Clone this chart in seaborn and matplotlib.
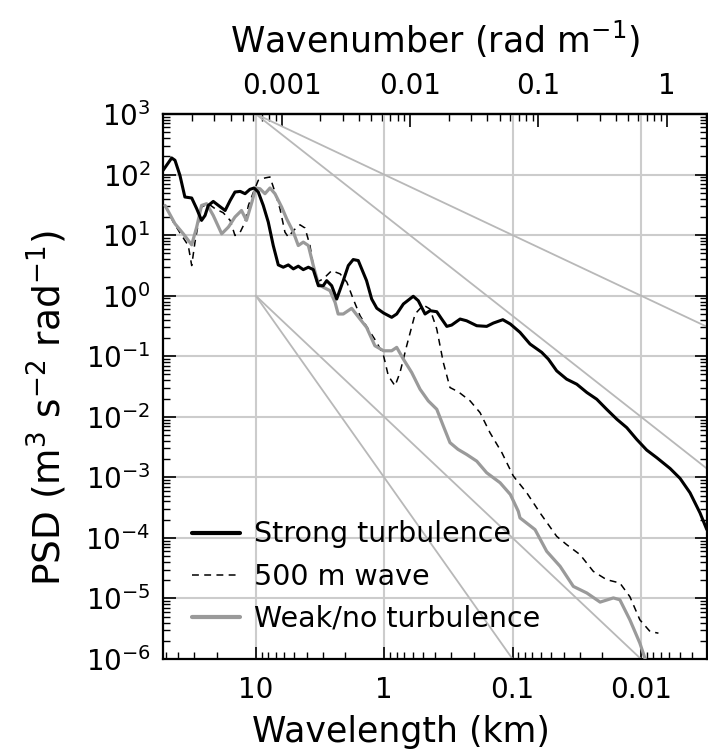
import numpy as np
import pandas as pd
import matplotlib
matplotlib.use("Agg")
import matplotlib.pyplot as plt
import seaborn as sns
from matplotlib.ticker import FixedLocator, FixedFormatter, LogLocator, NullFormatter

# ---------------- data ----------------
strong_wl = [52.7, 45.1, 42.5, 38.9, 35.6, 31.5, 28.8, 26.4, 24.8, 23.4, 21.4, 19.5, 17.3, 15.8,
             14.5, 13.2, 12.1, 11.1, 10.3, 9.55, 8.73, 7.98, 7.30, 6.67, 6.10, 5.57, 5.09, 4.66,
             4.26, 3.89, 3.56, 3.25, 2.98, 2.80, 2.56, 2.34, 2.08, 1.90, 1.74, 1.59, 1.37, 1.25,
             1.14, 1.01, 0.873, 0.798, 0.708, 0.593, 0.542, 0.480, 0.439, 0.389, 0.356, 0.325,
             0.298, 0.256, 0.228, 0.190, 0.159, 0.141, 0.119, 0.104, 0.0875, 0.0731, 0.0593,
             0.0526, 0.0453, 0.0379, 0.0316, 0.0264, 0.0221, 0.0185, 0.0154, 0.0129, 0.0108,
             0.00902, 0.00753, 0.00593, 0.00496, 0.00415, 0.00347, 0.00307]
strong_psd = [117, 188, 172, 97, 42.6, 41.0, 27.3, 17.5, 21.1, 30.9, 36.0, 30.9, 25.5, 37.4,
              51.5, 52.7, 48.3, 56.9, 60.0, 51.5, 30.9, 16.4, 6.73, 3.22, 2.95, 3.22, 2.77, 3.07,
              2.69, 2.95, 2.69, 1.46, 1.46, 1.77, 1.46, 0.88, 1.77, 3.14, 3.95, 3.80, 1.77, 0.88,
              0.62, 0.517, 0.439, 0.498, 0.729, 0.977, 0.826, 0.498, 0.565, 0.543, 0.411, 0.311,
              0.327, 0.411, 0.385, 0.319, 0.311, 0.353, 0.401, 0.340, 0.248, 0.159, 0.116,
              0.0895, 0.0573, 0.0418, 0.0345, 0.0252, 0.0195, 0.0133, 0.0091, 0.00662, 0.00424,
              0.00282, 0.00211, 0.00140, 0.00096, 0.000556, 0.000259, 0.000137]

wave_wl = [50.8, 43.8, 37.7, 33.5, 31.5, 29.7, 28.0, 26.4, 23.4, 20.7, 17.9, 15.8, 14.5, 13.2,
           12.1, 11.4, 10.4, 9.55, 8.47, 7.74, 7.08, 6.47, 5.92, 5.57, 5.09, 4.52, 4.13, 3.78,
           3.56, 3.35, 2.98, 2.56, 2.20, 1.95, 1.74, 1.54, 1.33, 1.14, 1.01, 0.927, 0.822, 0.752,
           0.667, 0.574, 0.495, 0.439, 0.389, 0.346, 0.307, 0.264, 0.214, 0.179, 0.150, 0.121,
           0.0986, 0.0775, 0.0611, 0.0453, 0.0379, 0.0298, 0.0235, 0.0185, 0.0146, 0.0122,
           0.0102, 0.00849, 0.00731]
wave_psd = [30.5, 16.4, 9.85, 6.73, 3.14, 7.66, 15.4, 29.1, 33.0, 27.3, 23.4, 17.5, 9.85, 11.2,
            16.4, 30.9, 51.5, 80.2, 87.9, 91.2, 51.5, 27.3, 11.2, 9.27, 11.9, 14.8, 13.1, 6.73,
            3.14, 1.67, 1.89, 2.59, 2.29, 1.67, 0.88, 0.467, 0.281, 0.169, 0.102, 0.0474, 0.0324,
            0.0539, 0.149, 0.498, 0.701, 0.602, 0.281, 0.0789, 0.0304, 0.0258, 0.0183, 0.0117,
            0.00548, 0.00255, 0.00105, 0.000556, 0.000259, 0.000106, 7.74e-5, 5.29e-5, 2.80e-5,
            2.04e-5, 1.80e-5, 1.07e-5, 4.44e-6, 2.84e-6, 2.67e-6]

weak_wl = [50.8, 42.5, 36.6, 31.5, 28.8, 26.4, 24.1, 21.4, 18.4, 16.3, 14.5, 12.9, 11.8, 10.7,
           10.0, 9.27, 8.47, 7.74, 7.08, 6.28, 5.74, 5.09, 4.66, 4.26, 3.89, 3.56, 3.25, 2.98,
           2.64, 2.41, 2.28, 2.08, 1.79, 1.54, 1.37, 1.18, 1.01, 0.873, 0.798, 0.708, 0.610,
           0.525, 0.453, 0.389, 0.346, 0.307, 0.266, 0.228, 0.190, 0.159, 0.125, 0.104, 0.0902,
           0.0875, 0.0668, 0.0542, 0.0426, 0.0336, 0.0264, 0.0208, 0.0164, 0.0146, 0.0122,
           0.0102, 0.00912]
weak_psd = [30.9, 15.4, 10.5, 6.91, 13.6, 30.9, 33.0, 21.1, 10.5, 13.6, 19.9, 25.5, 17.5, 35.2,
            60.0, 58.4, 48.3, 60.0, 48.3, 29.1, 18.6, 11.2, 6.73, 7.66, 6.73, 3.14, 1.56, 1.38,
            1.21, 0.778, 0.498, 0.498, 0.618, 0.411, 0.300, 0.149, 0.123, 0.123, 0.140, 0.0895,
            0.0539, 0.0285, 0.0183, 0.0133, 0.00705, 0.00374, 0.00290, 0.00239, 0.00185,
            0.00119, 0.000814, 0.000521, 0.000275, 0.000214, 0.000137, 6.0e-5, 3.39e-5,
            1.58e-5, 1.23e-5, 8.7e-6, 1.02e-5, 9.5e-6, 4.44e-6, 1.83e-6, 9.0e-7]

series_labels = ["Strong turbulence", "500 m wave", "Weak/no turbulence"]

# reference power laws: PSD = amp * (wavelength / anchor)^slope
ref_anchor_wl = [10, 10, 10, 10]
ref_amp = [1e3, 1e3, 1.0, 1.0]
ref_slope = [1.0, 5.0 / 3.0, 2.0, 3.0]

xtick_vals = [10, 1, 0.1, 0.01]
xtick_labels = ["10", "1", "0.1", "0.01"]
ktick_vals = [0.001, 0.01, 0.1, 1]
ktick_labels = ["0.001", "0.01", "0.1", "1"]

# ---------------- style ----------------
sns.set_theme(style="white")
plt.rcParams["font.family"] = ["DejaVu Sans"]
plt.rcParams["mathtext.default"] = "regular"
plt.rcParams["axes.unicode_minus"] = False
for key in ["text.color", "axes.labelcolor", "xtick.color", "ytick.color"]:
    plt.rcParams[key] = "black"

fig = plt.figure(figsize=(7.08, 7.56), dpi=100)
ax = fig.add_axes([163 / 708, 1 - 659 / 756, 544 / 708, 545 / 756])
ax.set_xscale("log")
ax.set_yscale("log")

# reference lines
xmin_plot, xmax_plot = 52.7, 0.00306
for a_wl, amp, s in zip(ref_anchor_wl, ref_amp, ref_slope):
    lam = np.logspace(np.log10(a_wl), np.log10(xmax_plot), 60)
    ax.plot(lam, amp * (lam / a_wl) ** s, color="#b8b8b8", lw=1.3, zorder=1.5)

df_s = pd.DataFrame({"wl": strong_wl, "psd": strong_psd})
df_w = pd.DataFrame({"wl": wave_wl, "psd": wave_psd})
df_n = pd.DataFrame({"wl": weak_wl, "psd": weak_psd})

sns.lineplot(data=df_s, x="wl", y="psd", ax=ax, color="black", lw=2.2,
             estimator=None, sort=False, label=series_labels[0], zorder=4)
sns.lineplot(data=df_w, x="wl", y="psd", ax=ax, color="black", lw=1.1,
             estimator=None, sort=False, label=series_labels[1], zorder=3)
sns.lineplot(data=df_n, x="wl", y="psd", ax=ax, color="#9a9a9a", lw=2.3,
             estimator=None, sort=False, label=series_labels[2], zorder=3.5)
lines = ax.get_lines()
lines[-2].set_linestyle((0, (4.5, 3.5)))

ax.set_xlim(xmin_plot, xmax_plot)
ax.set_ylim(1e-6, 1e3)

ax.grid(True, which="major", color="#cccccc", lw=1.5)
ax.set_axisbelow(True)

for sp in ax.spines.values():
    sp.set_color("black")
    sp.set_linewidth(1.6)

ax.xaxis.set_major_locator(FixedLocator(xtick_vals))
ax.xaxis.set_major_formatter(FixedFormatter(xtick_labels))
ax.xaxis.set_minor_locator(LogLocator(base=10, subs=np.arange(2, 10), numticks=30))
ax.xaxis.set_minor_formatter(NullFormatter())
ax.yaxis.set_major_locator(LogLocator(base=10, numticks=30))
ax.yaxis.set_minor_locator(LogLocator(base=10, subs=np.arange(2, 10), numticks=30))
ax.yaxis.set_minor_formatter(NullFormatter())

ax.tick_params(which="both", direction="in", top=False, bottom=True, left=True, right=True,
               colors="black")
ax.tick_params(which="major", length=9, width=1.2, labelsize=20)
ax.tick_params(axis="x", which="major", pad=12)
ax.tick_params(axis="y", which="major", pad=9)
ax.tick_params(which="minor", length=5, width=1.0)

ax.set_xlabel("Wavelength (km)", fontsize=25, labelpad=8)
ax.xaxis.label.set_x(0.4375)
ax.set_ylabel("PSD (m$^{3}$ s$^{-2}$ rad$^{-1}$)", fontsize=27, labelpad=12)
ax.yaxis.label.set_y(0.46)


def lam2k(x):
    x = np.asarray(x, dtype=float)
    with np.errstate(divide="ignore", invalid="ignore"):
        return 2 * np.pi / (x * 1000.0)


sec = ax.secondary_xaxis("top", functions=(lam2k, lam2k))
sec.xaxis.set_major_locator(FixedLocator(ktick_vals))
sec.xaxis.set_major_formatter(FixedFormatter(ktick_labels))
sec.xaxis.set_minor_locator(LogLocator(base=10, subs=np.arange(2, 10), numticks=30))
sec.xaxis.set_minor_formatter(NullFormatter())
sec.tick_params(which="both", direction="in", colors="black")
sec.tick_params(which="major", length=9, width=1.2, labelsize=20, pad=10)
sec.tick_params(which="minor", length=5, width=1.0)
sec.spines["top"].set_linewidth(1.6)
sec.set_xlabel("Wavenumber (rad m$^{-1}$)", fontsize=25, labelpad=14)

leg = ax.legend(loc="lower left", bbox_to_anchor=(0.011, 0.006), frameon=False, fontsize=20.5,
                handlelength=1.7, handletextpad=0.5, labelspacing=0.5, borderpad=0.3)
for h, w in zip(leg.get_lines(), [3.0, 1.1, 3.0]):
    h.set_linewidth(w)

fig.savefig("out.png", dpi=100)
